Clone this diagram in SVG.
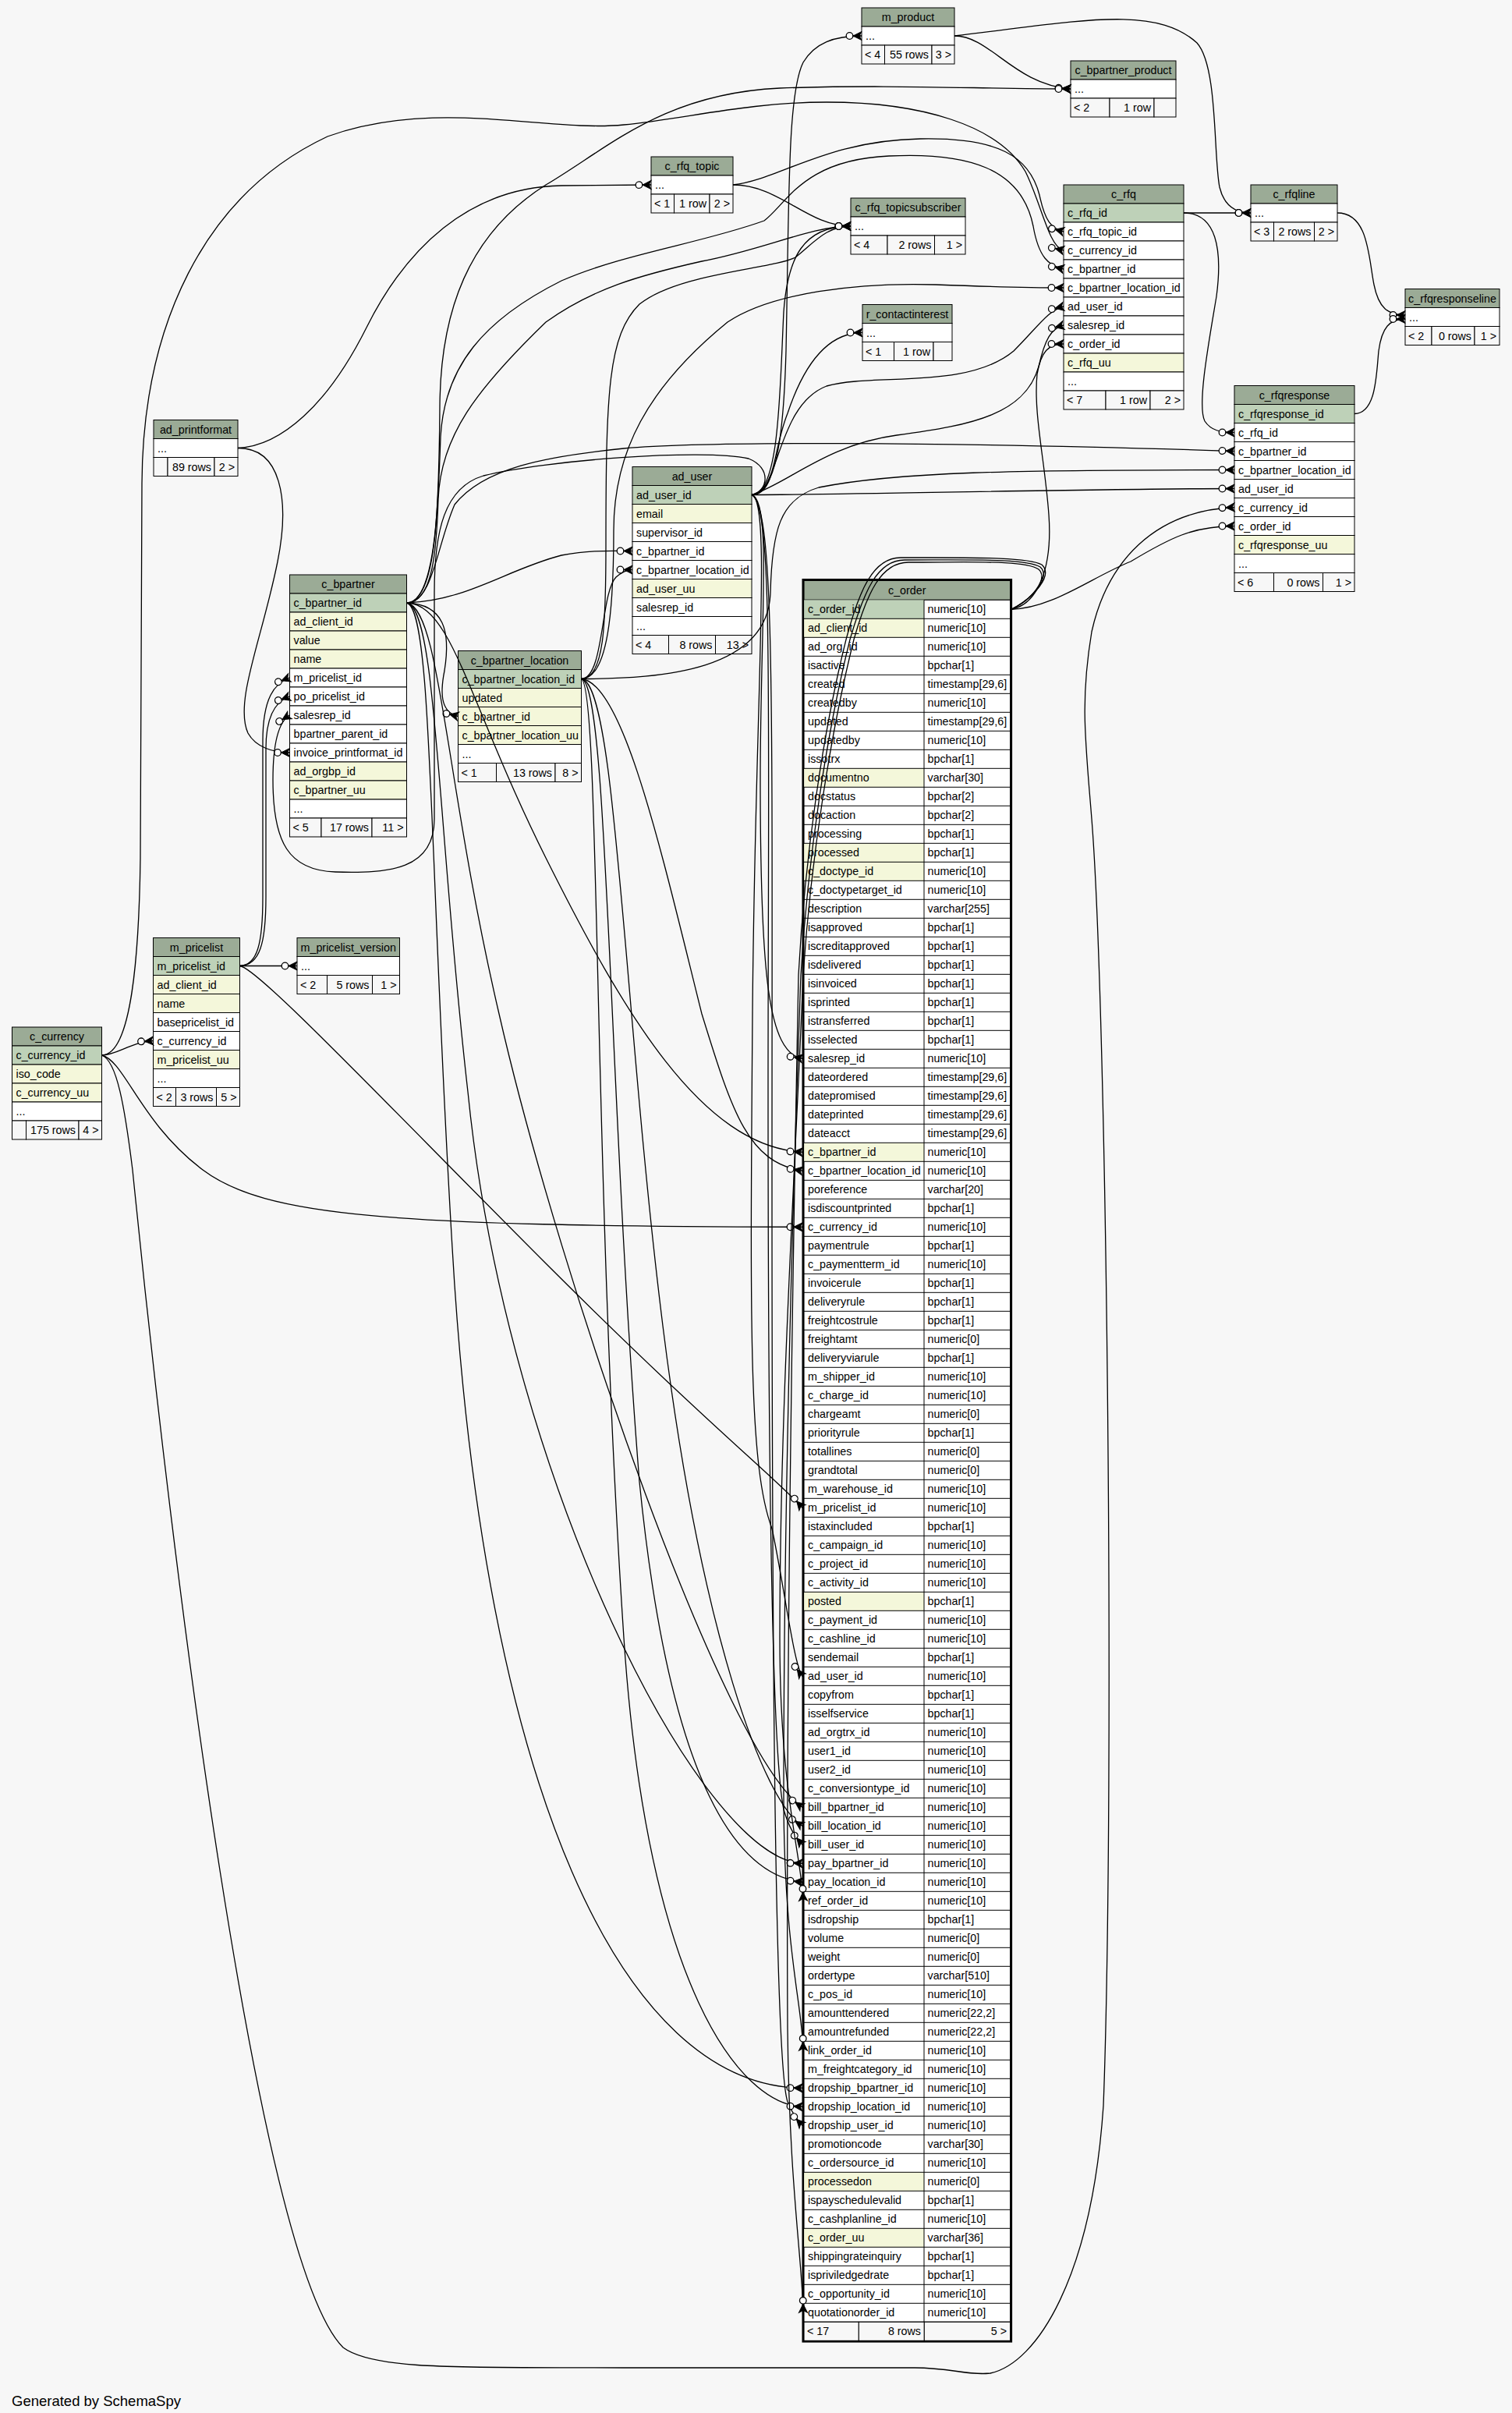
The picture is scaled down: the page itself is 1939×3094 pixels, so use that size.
<svg xmlns="http://www.w3.org/2000/svg" width="1939" height="3094" viewBox="0 0 1939 3094">
<defs>
<style>
.t{font-family:"Liberation Sans",Arial,Helvetica,sans-serif;font-size:14.3px;fill:#000}
.m{text-anchor:middle}
.e{text-anchor:end}
.hd{fill:#9bab96;stroke:#000;stroke-width:1}
.pk{fill:#bed1b8;stroke:#000;stroke-width:1}
.ix{fill:#f4f7da;stroke:#000;stroke-width:1}
.w{fill:#fff;stroke:#000;stroke-width:1}
.ft{fill:#f7f7f7;stroke:#000;stroke-width:1}
.ln{fill:none;stroke:#000;stroke-width:1}
.ed{fill:none;stroke:#000;stroke-width:1.3;marker-end:url(#fk)}
</style>
<marker id="fk" markerUnits="userSpaceOnUse" markerWidth="24" markerHeight="16" viewBox="-22 -8 24 16" refX="0" refY="0" orient="auto" overflow="visible">
<path d="M-11,0 L0,-5.5 L-3,0 L0,5.5 Z M-11,0 H0" fill="#000" stroke="#000" stroke-width="1"/>
<circle cx="-15.5" cy="0" r="4.3" fill="#fff" stroke="#000" stroke-width="1.3"/>
</marker>
</defs>
<rect x="0" y="0" width="1939" height="3094" fill="#f7f7f7"/>

<g id="m_product">
<rect class="hd" x="1105" y="10" width="119" height="24"/>
<text class="t m" x="1164.5" y="27">m_product</text>
<rect class="w" x="1105" y="34" width="119" height="24"/>
<text class="t" x="1110" y="51">...</text>
<rect class="ft" x="1105" y="58" width="29.5" height="24"/>
<rect class="ft" x="1134.5" y="58" width="60.5" height="24"/>
<rect class="ft" x="1195" y="58" width="29" height="24"/>
<text class="t" x="1109" y="75">&lt; 4</text>
<text class="t e" x="1191" y="75">55 rows</text>
<text class="t e" x="1220" y="75">3 &gt;</text>
</g>

<g id="c_bpartner_product">
<rect class="hd" x="1373" y="78" width="135" height="24"/>
<text class="t m" x="1440.5" y="95">c_bpartner_product</text>
<rect class="w" x="1373" y="102" width="135" height="24"/>
<text class="t" x="1378" y="119">...</text>
<rect class="ft" x="1373" y="126" width="50" height="24"/>
<rect class="ft" x="1423" y="126" width="57" height="24"/>
<rect class="ft" x="1480" y="126" width="28" height="24"/>
<text class="t" x="1377" y="143">&lt; 2</text>
<text class="t e" x="1476" y="143">1 row</text>
</g>

<g id="c_rfq_topic">
<rect class="hd" x="835" y="201" width="105" height="24"/>
<text class="t m" x="887.5" y="218">c_rfq_topic</text>
<rect class="w" x="835" y="225" width="105" height="24"/>
<text class="t" x="840" y="242">...</text>
<rect class="ft" x="835" y="249" width="29.5" height="24"/>
<rect class="ft" x="864.5" y="249" width="45.5" height="24"/>
<rect class="ft" x="910" y="249" width="30" height="24"/>
<text class="t" x="839" y="266">&lt; 1</text>
<text class="t e" x="906" y="266">1 row</text>
<text class="t e" x="936" y="266">2 &gt;</text>
</g>

<g id="c_rfq_topicsubscriber">
<rect class="hd" x="1091" y="254" width="147" height="24"/>
<text class="t m" x="1164.5" y="271">c_rfq_topicsubscriber</text>
<rect class="w" x="1091" y="278" width="147" height="24"/>
<text class="t" x="1096" y="295">...</text>
<rect class="ft" x="1091" y="302" width="47" height="24"/>
<rect class="ft" x="1138" y="302" width="60.5" height="24"/>
<rect class="ft" x="1198.5" y="302" width="39.5" height="24"/>
<text class="t" x="1095" y="319">&lt; 4</text>
<text class="t e" x="1194.5" y="319">2 rows</text>
<text class="t e" x="1234" y="319">1 &gt;</text>
</g>

<g id="r_contactinterest">
<rect class="hd" x="1106" y="390.5" width="115" height="24"/>
<text class="t m" x="1163.5" y="407.5">r_contactinterest</text>
<rect class="w" x="1106" y="414.5" width="115" height="24"/>
<text class="t" x="1111" y="431.5">...</text>
<rect class="ft" x="1106" y="438.5" width="40.5" height="24"/>
<rect class="ft" x="1146.5" y="438.5" width="50.5" height="24"/>
<rect class="ft" x="1197" y="438.5" width="24" height="24"/>
<text class="t" x="1110" y="455.5">&lt; 1</text>
<text class="t e" x="1193" y="455.5">1 row</text>
</g>

<g id="c_rfq">
<rect class="hd" x="1364" y="237" width="154" height="24"/>
<text class="t m" x="1441" y="254">c_rfq</text>
<rect class="pk" x="1364" y="261" width="154" height="24"/>
<rect class="w" x="1364" y="285" width="154" height="24"/>
<rect class="w" x="1364" y="309" width="154" height="24"/>
<rect class="w" x="1364" y="333" width="154" height="24"/>
<rect class="w" x="1364" y="357" width="154" height="24"/>
<rect class="w" x="1364" y="381" width="154" height="24"/>
<rect class="w" x="1364" y="405" width="154" height="24"/>
<rect class="w" x="1364" y="429" width="154" height="24"/>
<rect class="ix" x="1364" y="453" width="154" height="24"/>
<rect class="w" x="1364" y="477" width="154" height="24"/>
<text class="t" x="1369" y="278">c_rfq_id</text>
<text class="t" x="1369" y="302">c_rfq_topic_id</text>
<text class="t" x="1369" y="326">c_currency_id</text>
<text class="t" x="1369" y="350">c_bpartner_id</text>
<text class="t" x="1369" y="374">c_bpartner_location_id</text>
<text class="t" x="1369" y="398">ad_user_id</text>
<text class="t" x="1369" y="422">salesrep_id</text>
<text class="t" x="1369" y="446">c_order_id</text>
<text class="t" x="1369" y="470">c_rfq_uu</text>
<text class="t" x="1369" y="494">...</text>
<rect class="ft" x="1364" y="501" width="54" height="24"/>
<rect class="ft" x="1418" y="501" width="57" height="24"/>
<rect class="ft" x="1475" y="501" width="43" height="24"/>
<text class="t" x="1368" y="518">&lt; 7</text>
<text class="t e" x="1471" y="518">1 row</text>
<text class="t e" x="1514" y="518">2 &gt;</text>
</g>

<g id="c_rfqline">
<rect class="hd" x="1604" y="237" width="111" height="24"/>
<text class="t m" x="1659.5" y="254">c_rfqline</text>
<rect class="w" x="1604" y="261" width="111" height="24"/>
<text class="t" x="1609" y="278">...</text>
<rect class="ft" x="1604" y="285" width="29.5" height="24"/>
<rect class="ft" x="1633.5" y="285" width="52" height="24"/>
<rect class="ft" x="1685.5" y="285" width="29.5" height="24"/>
<text class="t" x="1608" y="302">&lt; 3</text>
<text class="t e" x="1681.5" y="302">2 rows</text>
<text class="t e" x="1711" y="302">2 &gt;</text>
</g>

<g id="c_rfqresponseline">
<rect class="hd" x="1802" y="370.5" width="121" height="24"/>
<text class="t m" x="1862.5" y="387.5">c_rfqresponseline</text>
<rect class="w" x="1802" y="394.5" width="121" height="24"/>
<text class="t" x="1807" y="411.5">...</text>
<rect class="ft" x="1802" y="418.5" width="34" height="24"/>
<rect class="ft" x="1836" y="418.5" width="55" height="24"/>
<rect class="ft" x="1891" y="418.5" width="32" height="24"/>
<text class="t" x="1806" y="435.5">&lt; 2</text>
<text class="t e" x="1887" y="435.5">0 rows</text>
<text class="t e" x="1919" y="435.5">1 &gt;</text>
</g>

<g id="c_rfqresponse">
<rect class="hd" x="1583" y="494.5" width="154" height="24"/>
<text class="t m" x="1660" y="511.5">c_rfqresponse</text>
<rect class="pk" x="1583" y="518.5" width="154" height="24"/>
<rect class="w" x="1583" y="542.5" width="154" height="24"/>
<rect class="w" x="1583" y="566.5" width="154" height="24"/>
<rect class="w" x="1583" y="590.5" width="154" height="24"/>
<rect class="w" x="1583" y="614.5" width="154" height="24"/>
<rect class="w" x="1583" y="638.5" width="154" height="24"/>
<rect class="w" x="1583" y="662.5" width="154" height="24"/>
<rect class="ix" x="1583" y="686.5" width="154" height="24"/>
<rect class="w" x="1583" y="710.5" width="154" height="24"/>
<text class="t" x="1588" y="535.5">c_rfqresponse_id</text>
<text class="t" x="1588" y="559.5">c_rfq_id</text>
<text class="t" x="1588" y="583.5">c_bpartner_id</text>
<text class="t" x="1588" y="607.5">c_bpartner_location_id</text>
<text class="t" x="1588" y="631.5">ad_user_id</text>
<text class="t" x="1588" y="655.5">c_currency_id</text>
<text class="t" x="1588" y="679.5">c_order_id</text>
<text class="t" x="1588" y="703.5">c_rfqresponse_uu</text>
<text class="t" x="1588" y="727.5">...</text>
<rect class="ft" x="1583" y="734.5" width="50.5" height="24"/>
<rect class="ft" x="1633.5" y="734.5" width="63" height="24"/>
<rect class="ft" x="1696.5" y="734.5" width="40.5" height="24"/>
<text class="t" x="1587" y="751.5">&lt; 6</text>
<text class="t e" x="1692.5" y="751.5">0 rows</text>
<text class="t e" x="1733" y="751.5">1 &gt;</text>
</g>

<g id="ad_printformat">
<rect class="hd" x="197" y="538.5" width="108" height="24"/>
<text class="t m" x="251" y="555.5">ad_printformat</text>
<rect class="w" x="197" y="562.5" width="108" height="24"/>
<text class="t" x="202" y="579.5">...</text>
<rect class="ft" x="197" y="586.5" width="18" height="24"/>
<rect class="ft" x="215" y="586.5" width="60" height="24"/>
<rect class="ft" x="275" y="586.5" width="30" height="24"/>
<text class="t e" x="271" y="603.5">89 rows</text>
<text class="t e" x="301" y="603.5">2 &gt;</text>
</g>

<g id="ad_user">
<rect class="hd" x="811" y="598.5" width="153" height="24"/>
<text class="t m" x="887.5" y="615.5">ad_user</text>
<rect class="pk" x="811" y="622.5" width="153" height="24"/>
<rect class="ix" x="811" y="646.5" width="153" height="24"/>
<rect class="w" x="811" y="670.5" width="153" height="24"/>
<rect class="w" x="811" y="694.5" width="153" height="24"/>
<rect class="w" x="811" y="718.5" width="153" height="24"/>
<rect class="ix" x="811" y="742.5" width="153" height="24"/>
<rect class="w" x="811" y="766.5" width="153" height="24"/>
<rect class="w" x="811" y="790.5" width="153" height="24"/>
<text class="t" x="816" y="639.5">ad_user_id</text>
<text class="t" x="816" y="663.5">email</text>
<text class="t" x="816" y="687.5">supervisor_id</text>
<text class="t" x="816" y="711.5">c_bpartner_id</text>
<text class="t" x="816" y="735.5">c_bpartner_location_id</text>
<text class="t" x="816" y="759.5">ad_user_uu</text>
<text class="t" x="816" y="783.5">salesrep_id</text>
<text class="t" x="816" y="807.5">...</text>
<rect class="ft" x="811" y="814.5" width="46.5" height="24"/>
<rect class="ft" x="857.5" y="814.5" width="60" height="24"/>
<rect class="ft" x="917.5" y="814.5" width="46.5" height="24"/>
<text class="t" x="815" y="831.5">&lt; 4</text>
<text class="t e" x="913.5" y="831.5">8 rows</text>
<text class="t e" x="960" y="831.5">13 &gt;</text>
</g>

<g id="c_bpartner">
<rect class="hd" x="371.5" y="737" width="150" height="24"/>
<text class="t m" x="446.5" y="754">c_bpartner</text>
<rect class="pk" x="371.5" y="761" width="150" height="24"/>
<rect class="ix" x="371.5" y="785" width="150" height="24"/>
<rect class="ix" x="371.5" y="809" width="150" height="24"/>
<rect class="ix" x="371.5" y="833" width="150" height="24"/>
<rect class="w" x="371.5" y="857" width="150" height="24"/>
<rect class="w" x="371.5" y="881" width="150" height="24"/>
<rect class="w" x="371.5" y="905" width="150" height="24"/>
<rect class="w" x="371.5" y="929" width="150" height="24"/>
<rect class="w" x="371.5" y="953" width="150" height="24"/>
<rect class="ix" x="371.5" y="977" width="150" height="24"/>
<rect class="ix" x="371.5" y="1001" width="150" height="24"/>
<rect class="w" x="371.5" y="1025" width="150" height="24"/>
<text class="t" x="376.5" y="778">c_bpartner_id</text>
<text class="t" x="376.5" y="802">ad_client_id</text>
<text class="t" x="376.5" y="826">value</text>
<text class="t" x="376.5" y="850">name</text>
<text class="t" x="376.5" y="874">m_pricelist_id</text>
<text class="t" x="376.5" y="898">po_pricelist_id</text>
<text class="t" x="376.5" y="922">salesrep_id</text>
<text class="t" x="376.5" y="946">bpartner_parent_id</text>
<text class="t" x="376.5" y="970">invoice_printformat_id</text>
<text class="t" x="376.5" y="994">ad_orgbp_id</text>
<text class="t" x="376.5" y="1018">c_bpartner_uu</text>
<text class="t" x="376.5" y="1042">...</text>
<rect class="ft" x="371.5" y="1049" width="40.5" height="24"/>
<rect class="ft" x="412" y="1049" width="65" height="24"/>
<rect class="ft" x="477" y="1049" width="44.5" height="24"/>
<text class="t" x="375.5" y="1066">&lt; 5</text>
<text class="t e" x="473" y="1066">17 rows</text>
<text class="t e" x="517.5" y="1066">11 &gt;</text>
</g>

<g id="c_bpartner_location">
<rect class="hd" x="587.5" y="834.5" width="158" height="24"/>
<text class="t m" x="666.5" y="851.5">c_bpartner_location</text>
<rect class="pk" x="587.5" y="858.5" width="158" height="24"/>
<rect class="ix" x="587.5" y="882.5" width="158" height="24"/>
<rect class="ix" x="587.5" y="906.5" width="158" height="24"/>
<rect class="ix" x="587.5" y="930.5" width="158" height="24"/>
<rect class="w" x="587.5" y="954.5" width="158" height="24"/>
<text class="t" x="592.5" y="875.5">c_bpartner_location_id</text>
<text class="t" x="592.5" y="899.5">updated</text>
<text class="t" x="592.5" y="923.5">c_bpartner_id</text>
<text class="t" x="592.5" y="947.5">c_bpartner_location_uu</text>
<text class="t" x="592.5" y="971.5">...</text>
<rect class="ft" x="587.5" y="978.5" width="49" height="24"/>
<rect class="ft" x="636.5" y="978.5" width="75.5" height="24"/>
<rect class="ft" x="712" y="978.5" width="33.5" height="24"/>
<text class="t" x="591.5" y="995.5">&lt; 1</text>
<text class="t e" x="708" y="995.5">13 rows</text>
<text class="t e" x="741.5" y="995.5">8 &gt;</text>
</g>

<g id="m_pricelist">
<rect class="hd" x="196.5" y="1202.5" width="111" height="24"/>
<text class="t m" x="252" y="1219.5">m_pricelist</text>
<rect class="pk" x="196.5" y="1226.5" width="111" height="24"/>
<rect class="ix" x="196.5" y="1250.5" width="111" height="24"/>
<rect class="ix" x="196.5" y="1274.5" width="111" height="24"/>
<rect class="w" x="196.5" y="1298.5" width="111" height="24"/>
<rect class="w" x="196.5" y="1322.5" width="111" height="24"/>
<rect class="ix" x="196.5" y="1346.5" width="111" height="24"/>
<rect class="w" x="196.5" y="1370.5" width="111" height="24"/>
<text class="t" x="201.5" y="1243.5">m_pricelist_id</text>
<text class="t" x="201.5" y="1267.5">ad_client_id</text>
<text class="t" x="201.5" y="1291.5">name</text>
<text class="t" x="201.5" y="1315.5">basepricelist_id</text>
<text class="t" x="201.5" y="1339.5">c_currency_id</text>
<text class="t" x="201.5" y="1363.5">m_pricelist_uu</text>
<text class="t" x="201.5" y="1387.5">...</text>
<rect class="ft" x="196.5" y="1394.5" width="29" height="24"/>
<rect class="ft" x="225.5" y="1394.5" width="52" height="24"/>
<rect class="ft" x="277.5" y="1394.5" width="30" height="24"/>
<text class="t" x="200.5" y="1411.5">&lt; 2</text>
<text class="t e" x="273.5" y="1411.5">3 rows</text>
<text class="t e" x="303.5" y="1411.5">5 &gt;</text>
</g>

<g id="m_pricelist_version">
<rect class="hd" x="381" y="1202.5" width="131.5" height="24"/>
<text class="t m" x="446.75" y="1219.5">m_pricelist_version</text>
<rect class="w" x="381" y="1226.5" width="131.5" height="24"/>
<text class="t" x="386" y="1243.5">...</text>
<rect class="ft" x="381" y="1250.5" width="38.5" height="24"/>
<rect class="ft" x="419.5" y="1250.5" width="58" height="24"/>
<rect class="ft" x="477.5" y="1250.5" width="35" height="24"/>
<text class="t" x="385" y="1267.5">&lt; 2</text>
<text class="t e" x="473.5" y="1267.5">5 rows</text>
<text class="t e" x="508.5" y="1267.5">1 &gt;</text>
</g>

<g id="c_currency">
<rect class="hd" x="15.5" y="1317" width="115" height="24"/>
<text class="t m" x="73" y="1334">c_currency</text>
<rect class="pk" x="15.5" y="1341" width="115" height="24"/>
<rect class="ix" x="15.5" y="1365" width="115" height="24"/>
<rect class="ix" x="15.5" y="1389" width="115" height="24"/>
<rect class="w" x="15.5" y="1413" width="115" height="24"/>
<text class="t" x="20.5" y="1358">c_currency_id</text>
<text class="t" x="20.5" y="1382">iso_code</text>
<text class="t" x="20.5" y="1406">c_currency_uu</text>
<text class="t" x="20.5" y="1430">...</text>
<rect class="ft" x="15.5" y="1437" width="18" height="24"/>
<rect class="ft" x="33.5" y="1437" width="67.5" height="24"/>
<rect class="ft" x="101" y="1437" width="29.5" height="24"/>
<text class="t e" x="97" y="1454">175 rows</text>
<text class="t e" x="126.5" y="1454">4 &gt;</text>
</g>

<g id="c_order">
<rect class="hd" x="1031" y="744.5" width="264.5" height="24.8"/>
<text class="t m" x="1163.25" y="761.5">c_order</text>
<rect class="w" x="1031" y="769.3" width="264.5" height="2208"/>
<rect fill="#bed1b8" x="1031" y="769.3" width="154" height="24"/>
<rect fill="#f4f7da" x="1031" y="793.3" width="154" height="24"/>
<rect fill="#f4f7da" x="1031" y="985.3" width="154" height="24"/>
<rect fill="#f4f7da" x="1031" y="1081.3" width="154" height="24"/>
<rect fill="#f4f7da" x="1031" y="1105.3" width="154" height="24"/>
<rect fill="#f4f7da" x="1031" y="1465.3" width="154" height="24"/>
<rect fill="#f4f7da" x="1031" y="2041.3" width="154" height="24"/>
<rect fill="#f4f7da" x="1031" y="2785.3" width="154" height="24"/>
<rect fill="#f4f7da" x="1031" y="2857.3" width="154" height="24"/>
<path class="ln" d="M1185 769.3V2977.3
M1031 793.3H1295.5M1031 817.3H1295.5M1031 841.3H1295.5M1031 865.3H1295.5M1031 889.3H1295.5M1031 913.3H1295.5M1031 937.3H1295.5M1031 961.3H1295.5M1031 985.3H1295.5M1031 1009.3H1295.5
M1031 1033.3H1295.5M1031 1057.3H1295.5M1031 1081.3H1295.5M1031 1105.3H1295.5M1031 1129.3H1295.5M1031 1153.3H1295.5M1031 1177.3H1295.5M1031 1201.3H1295.5M1031 1225.3H1295.5M1031 1249.3H1295.5
M1031 1273.3H1295.5M1031 1297.3H1295.5M1031 1321.3H1295.5M1031 1345.3H1295.5M1031 1369.3H1295.5M1031 1393.3H1295.5M1031 1417.3H1295.5M1031 1441.3H1295.5M1031 1465.3H1295.5M1031 1489.3H1295.5
M1031 1513.3H1295.5M1031 1537.3H1295.5M1031 1561.3H1295.5M1031 1585.3H1295.5M1031 1609.3H1295.5M1031 1633.3H1295.5M1031 1657.3H1295.5M1031 1681.3H1295.5M1031 1705.3H1295.5M1031 1729.3H1295.5
M1031 1753.3H1295.5M1031 1777.3H1295.5M1031 1801.3H1295.5M1031 1825.3H1295.5M1031 1849.3H1295.5M1031 1873.3H1295.5M1031 1897.3H1295.5M1031 1921.3H1295.5M1031 1945.3H1295.5M1031 1969.3H1295.5
M1031 1993.3H1295.5M1031 2017.3H1295.5M1031 2041.3H1295.5M1031 2065.3H1295.5M1031 2089.3H1295.5M1031 2113.3H1295.5M1031 2137.3H1295.5M1031 2161.3H1295.5M1031 2185.3H1295.5M1031 2209.3H1295.5
M1031 2233.3H1295.5M1031 2257.3H1295.5M1031 2281.3H1295.5M1031 2305.3H1295.5M1031 2329.3H1295.5M1031 2353.3H1295.5M1031 2377.3H1295.5M1031 2401.3H1295.5M1031 2425.3H1295.5M1031 2449.3H1295.5
M1031 2473.3H1295.5M1031 2497.3H1295.5M1031 2521.3H1295.5M1031 2545.3H1295.5M1031 2569.3H1295.5M1031 2593.3H1295.5M1031 2617.3H1295.5M1031 2641.3H1295.5M1031 2665.3H1295.5M1031 2689.3H1295.5
M1031 2713.3H1295.5M1031 2737.3H1295.5M1031 2761.3H1295.5M1031 2785.3H1295.5M1031 2809.3H1295.5M1031 2833.3H1295.5M1031 2857.3H1295.5M1031 2881.3H1295.5M1031 2905.3H1295.5M1031 2929.3H1295.5
M1031 2953.3H1295.5M1031 2977.3H1295.5"/>
<text class="t" x="1036" y="786.3"><tspan x="1036">c_order_id</tspan><tspan x="1036" dy="24">ad_client_id</tspan><tspan x="1036" dy="24">ad_org_id</tspan><tspan x="1036" dy="24">isactive</tspan><tspan x="1036" dy="24">created</tspan><tspan x="1036" dy="24">createdby</tspan><tspan x="1036" dy="24">updated</tspan><tspan x="1036" dy="24">updatedby</tspan><tspan x="1036" dy="24">issotrx</tspan><tspan x="1036" dy="24">documentno</tspan><tspan x="1036" dy="24">docstatus</tspan><tspan x="1036" dy="24">docaction</tspan><tspan x="1036" dy="24">processing</tspan><tspan x="1036" dy="24">processed</tspan><tspan x="1036" dy="24">c_doctype_id</tspan><tspan x="1036" dy="24">c_doctypetarget_id</tspan><tspan x="1036" dy="24">description</tspan><tspan x="1036" dy="24">isapproved</tspan><tspan x="1036" dy="24">iscreditapproved</tspan><tspan x="1036" dy="24">isdelivered</tspan><tspan x="1036" dy="24">isinvoiced</tspan><tspan x="1036" dy="24">isprinted</tspan><tspan x="1036" dy="24">istransferred</tspan><tspan x="1036" dy="24">isselected</tspan><tspan x="1036" dy="24">salesrep_id</tspan><tspan x="1036" dy="24">dateordered</tspan><tspan x="1036" dy="24">datepromised</tspan><tspan x="1036" dy="24">dateprinted</tspan><tspan x="1036" dy="24">dateacct</tspan><tspan x="1036" dy="24">c_bpartner_id</tspan><tspan x="1036" dy="24">c_bpartner_location_id</tspan><tspan x="1036" dy="24">poreference</tspan><tspan x="1036" dy="24">isdiscountprinted</tspan><tspan x="1036" dy="24">c_currency_id</tspan><tspan x="1036" dy="24">paymentrule</tspan><tspan x="1036" dy="24">c_paymentterm_id</tspan><tspan x="1036" dy="24">invoicerule</tspan><tspan x="1036" dy="24">deliveryrule</tspan><tspan x="1036" dy="24">freightcostrule</tspan><tspan x="1036" dy="24">freightamt</tspan><tspan x="1036" dy="24">deliveryviarule</tspan><tspan x="1036" dy="24">m_shipper_id</tspan><tspan x="1036" dy="24">c_charge_id</tspan><tspan x="1036" dy="24">chargeamt</tspan><tspan x="1036" dy="24">priorityrule</tspan><tspan x="1036" dy="24">totallines</tspan><tspan x="1036" dy="24">grandtotal</tspan><tspan x="1036" dy="24">m_warehouse_id</tspan><tspan x="1036" dy="24">m_pricelist_id</tspan><tspan x="1036" dy="24">istaxincluded</tspan><tspan x="1036" dy="24">c_campaign_id</tspan><tspan x="1036" dy="24">c_project_id</tspan><tspan x="1036" dy="24">c_activity_id</tspan><tspan x="1036" dy="24">posted</tspan><tspan x="1036" dy="24">c_payment_id</tspan><tspan x="1036" dy="24">c_cashline_id</tspan><tspan x="1036" dy="24">sendemail</tspan><tspan x="1036" dy="24">ad_user_id</tspan><tspan x="1036" dy="24">copyfrom</tspan><tspan x="1036" dy="24">isselfservice</tspan><tspan x="1036" dy="24">ad_orgtrx_id</tspan><tspan x="1036" dy="24">user1_id</tspan><tspan x="1036" dy="24">user2_id</tspan><tspan x="1036" dy="24">c_conversiontype_id</tspan><tspan x="1036" dy="24">bill_bpartner_id</tspan><tspan x="1036" dy="24">bill_location_id</tspan><tspan x="1036" dy="24">bill_user_id</tspan><tspan x="1036" dy="24">pay_bpartner_id</tspan><tspan x="1036" dy="24">pay_location_id</tspan><tspan x="1036" dy="24">ref_order_id</tspan><tspan x="1036" dy="24">isdropship</tspan><tspan x="1036" dy="24">volume</tspan><tspan x="1036" dy="24">weight</tspan><tspan x="1036" dy="24">ordertype</tspan><tspan x="1036" dy="24">c_pos_id</tspan><tspan x="1036" dy="24">amounttendered</tspan><tspan x="1036" dy="24">amountrefunded</tspan><tspan x="1036" dy="24">link_order_id</tspan><tspan x="1036" dy="24">m_freightcategory_id</tspan><tspan x="1036" dy="24">dropship_bpartner_id</tspan><tspan x="1036" dy="24">dropship_location_id</tspan><tspan x="1036" dy="24">dropship_user_id</tspan><tspan x="1036" dy="24">promotioncode</tspan><tspan x="1036" dy="24">c_ordersource_id</tspan><tspan x="1036" dy="24">processedon</tspan><tspan x="1036" dy="24">ispayschedulevalid</tspan><tspan x="1036" dy="24">c_cashplanline_id</tspan><tspan x="1036" dy="24">c_order_uu</tspan><tspan x="1036" dy="24">shippingrateinquiry</tspan><tspan x="1036" dy="24">ispriviledgedrate</tspan><tspan x="1036" dy="24">c_opportunity_id</tspan><tspan x="1036" dy="24">quotationorder_id</tspan></text>
<text class="t" x="1189.5" y="786.3"><tspan x="1189.5">numeric[10]</tspan><tspan x="1189.5" dy="24">numeric[10]</tspan><tspan x="1189.5" dy="24">numeric[10]</tspan><tspan x="1189.5" dy="24">bpchar[1]</tspan><tspan x="1189.5" dy="24">timestamp[29,6]</tspan><tspan x="1189.5" dy="24">numeric[10]</tspan><tspan x="1189.5" dy="24">timestamp[29,6]</tspan><tspan x="1189.5" dy="24">numeric[10]</tspan><tspan x="1189.5" dy="24">bpchar[1]</tspan><tspan x="1189.5" dy="24">varchar[30]</tspan><tspan x="1189.5" dy="24">bpchar[2]</tspan><tspan x="1189.5" dy="24">bpchar[2]</tspan><tspan x="1189.5" dy="24">bpchar[1]</tspan><tspan x="1189.5" dy="24">bpchar[1]</tspan><tspan x="1189.5" dy="24">numeric[10]</tspan><tspan x="1189.5" dy="24">numeric[10]</tspan><tspan x="1189.5" dy="24">varchar[255]</tspan><tspan x="1189.5" dy="24">bpchar[1]</tspan><tspan x="1189.5" dy="24">bpchar[1]</tspan><tspan x="1189.5" dy="24">bpchar[1]</tspan><tspan x="1189.5" dy="24">bpchar[1]</tspan><tspan x="1189.5" dy="24">bpchar[1]</tspan><tspan x="1189.5" dy="24">bpchar[1]</tspan><tspan x="1189.5" dy="24">bpchar[1]</tspan><tspan x="1189.5" dy="24">numeric[10]</tspan><tspan x="1189.5" dy="24">timestamp[29,6]</tspan><tspan x="1189.5" dy="24">timestamp[29,6]</tspan><tspan x="1189.5" dy="24">timestamp[29,6]</tspan><tspan x="1189.5" dy="24">timestamp[29,6]</tspan><tspan x="1189.5" dy="24">numeric[10]</tspan><tspan x="1189.5" dy="24">numeric[10]</tspan><tspan x="1189.5" dy="24">varchar[20]</tspan><tspan x="1189.5" dy="24">bpchar[1]</tspan><tspan x="1189.5" dy="24">numeric[10]</tspan><tspan x="1189.5" dy="24">bpchar[1]</tspan><tspan x="1189.5" dy="24">numeric[10]</tspan><tspan x="1189.5" dy="24">bpchar[1]</tspan><tspan x="1189.5" dy="24">bpchar[1]</tspan><tspan x="1189.5" dy="24">bpchar[1]</tspan><tspan x="1189.5" dy="24">numeric[0]</tspan><tspan x="1189.5" dy="24">bpchar[1]</tspan><tspan x="1189.5" dy="24">numeric[10]</tspan><tspan x="1189.5" dy="24">numeric[10]</tspan><tspan x="1189.5" dy="24">numeric[0]</tspan><tspan x="1189.5" dy="24">bpchar[1]</tspan><tspan x="1189.5" dy="24">numeric[0]</tspan><tspan x="1189.5" dy="24">numeric[0]</tspan><tspan x="1189.5" dy="24">numeric[10]</tspan><tspan x="1189.5" dy="24">numeric[10]</tspan><tspan x="1189.5" dy="24">bpchar[1]</tspan><tspan x="1189.5" dy="24">numeric[10]</tspan><tspan x="1189.5" dy="24">numeric[10]</tspan><tspan x="1189.5" dy="24">numeric[10]</tspan><tspan x="1189.5" dy="24">bpchar[1]</tspan><tspan x="1189.5" dy="24">numeric[10]</tspan><tspan x="1189.5" dy="24">numeric[10]</tspan><tspan x="1189.5" dy="24">bpchar[1]</tspan><tspan x="1189.5" dy="24">numeric[10]</tspan><tspan x="1189.5" dy="24">bpchar[1]</tspan><tspan x="1189.5" dy="24">bpchar[1]</tspan><tspan x="1189.5" dy="24">numeric[10]</tspan><tspan x="1189.5" dy="24">numeric[10]</tspan><tspan x="1189.5" dy="24">numeric[10]</tspan><tspan x="1189.5" dy="24">numeric[10]</tspan><tspan x="1189.5" dy="24">numeric[10]</tspan><tspan x="1189.5" dy="24">numeric[10]</tspan><tspan x="1189.5" dy="24">numeric[10]</tspan><tspan x="1189.5" dy="24">numeric[10]</tspan><tspan x="1189.5" dy="24">numeric[10]</tspan><tspan x="1189.5" dy="24">numeric[10]</tspan><tspan x="1189.5" dy="24">bpchar[1]</tspan><tspan x="1189.5" dy="24">numeric[0]</tspan><tspan x="1189.5" dy="24">numeric[0]</tspan><tspan x="1189.5" dy="24">varchar[510]</tspan><tspan x="1189.5" dy="24">numeric[10]</tspan><tspan x="1189.5" dy="24">numeric[22,2]</tspan><tspan x="1189.5" dy="24">numeric[22,2]</tspan><tspan x="1189.5" dy="24">numeric[10]</tspan><tspan x="1189.5" dy="24">numeric[10]</tspan><tspan x="1189.5" dy="24">numeric[10]</tspan><tspan x="1189.5" dy="24">numeric[10]</tspan><tspan x="1189.5" dy="24">numeric[10]</tspan><tspan x="1189.5" dy="24">varchar[30]</tspan><tspan x="1189.5" dy="24">numeric[10]</tspan><tspan x="1189.5" dy="24">numeric[0]</tspan><tspan x="1189.5" dy="24">bpchar[1]</tspan><tspan x="1189.5" dy="24">numeric[10]</tspan><tspan x="1189.5" dy="24">varchar[36]</tspan><tspan x="1189.5" dy="24">bpchar[1]</tspan><tspan x="1189.5" dy="24">bpchar[1]</tspan><tspan x="1189.5" dy="24">numeric[10]</tspan><tspan x="1189.5" dy="24">numeric[10]</tspan></text>
<rect class="ft" x="1031" y="2977.3" width="70.3" height="24"/>
<rect class="ft" x="1101.3" y="2977.3" width="84" height="24"/>
<rect class="ft" x="1185.3" y="2977.3" width="110.2" height="24"/>
<text class="t" x="1035" y="2994.3">&lt; 17</text>
<text class="t e" x="1181" y="2994.3">8 rows</text>
<text class="t e" x="1291" y="2994.3">5 &gt;</text>
<rect x="1029.8" y="743.3" width="267" height="2259" fill="none" stroke="#000" stroke-width="2.6"/>
</g>

<g id="connectors">
<path class="ed" d="M1224,46 C1270,46 1300,108 1373,114"/>
<path class="ed" d="M1224,46 C1380,28 1480,5 1535,55 C1562,85 1556,200 1564,240 C1570,265 1585,273 1604,273"/>
<path class="ed" d="M940,237 C1000,237 1035,290 1091,290"/>
<path class="ed" d="M940,237 C1000,230 1060,180 1180,178 C1280,176 1320,200 1333,250 C1340,283 1348,293 1364,297"/>
<path class="ed" d="M1518,273 L1604,273"/>
<path class="ed" d="M1518,273 C1560,273 1568,320 1560,380 C1550,440 1535,520 1545,540 C1553,552 1565,554.5 1583,554.5"/>
<path class="ed" d="M1715,273 C1755,273 1755,330 1762,365 C1768,395 1780,404 1802,404"/>
<path class="ed" d="M1737,530.5 C1765,530 1765,480 1768,450 C1772,420 1782,409 1802,409"/>
<path class="ed" d="M305,574.5 C360,574 372,640 356,720 C336,820 300,900 318,940 C328,958 350,965 371.5,965"/>
<path class="ed" d="M305,574.5 C360,572 420,520 470,420 C520,320 600,240 720,238 L835,237"/>
<path class="ed" d="M964,634.5 C995,634 1005,560 1008,450 C1012,250 1010,120 1030,80 C1045,55 1070,46 1105,46"/>
<path class="ed" d="M964,634.5 C995,634 990,580 1010,530 C1030,470 1060,426.5 1106,426.5"/>
<path class="ed" d="M964,634.5 C1000,634 1000,500 1005,400 C1010,330 1030,290 1091,290"/>
<path class="ed" d="M964,634.5 C1000,634 995,520 1060,495 C1120,478 1240,500 1300,450 C1330,420 1345,397 1364,393"/>
<path class="ed" d="M964,634.5 C1010,620 1060,570 1150,558 C1250,545 1315,530 1332,470 C1340,435 1348,421 1364,417"/>
<path class="ed" d="M964,634.5 C1100,634 1400,626.5 1583,626.5"/>
<path class="ed" d="M964,634.5 C985,630 990,600 960,588 C900,575 700,590 620,610 C570,625 557,680 557,760 L557,1050 C557,1115 500,1120 430,1118 C370,1116 350,1080 350,1000 C350,950 358,925 371.5,917"/>
<path class="ed" d="M964,634.5 C990,640 975,800 975,1000 C975,1250 985,1350 1029,1357.3"/>
<path class="ed" d="M964,634.5 C990,640 968,900 965,1300 C962,1700 960,1880 990,1960 C1005,2030 1018,2135 1029,2149.3"/>
<path class="ed" d="M964,634.5 C992,645 985,900 985,1400 C985,1900 990,2250 1005,2320 C1012,2345 1020,2355 1029,2365.3"/>
<path class="ed" d="M964,634.5 C994,650 990,900 990,1500 C990,2200 995,2650 1010,2695 C1016,2710 1022,2718 1029,2725.3"/>
<path class="ed" d="M521.5,773 C600,770 650,730 720,712 C760,705 780,706.5 811,706.5"/>
<path class="ed" d="M521.5,773 C570,775 578,810 570,860 C563,895 568,914 587.5,918.5"/>
<path class="ed" d="M521.5,773 C560,773 563,650 564,520 C565,400 600,300 700,237 C780,190 850,120 1000,113 C1150,108 1250,114 1373,114"/>
<path class="ed" d="M521.5,773 C558,773 562,650 565,560 C570,470 620,410 720,360 C800,325 900,312 980,283 C1010,260 1030,205 1140,200 C1240,195 1310,215 1325,290 C1332,330 1345,341 1364,345"/>
<path class="ed" d="M521.5,773 C556,773 560,700 562,640 C565,560 610,500 700,413 C760,370 820,353 900,335 C980,320 1040,290 1091,290"/>
<path class="ed" d="M521.5,773 C555,773 560,700 583,647 C620,600 700,585 800,575 C900,566 1200,566 1583,578.5"/>
<path class="ed" d="M521.5,773 C580,775 600,900 700,1100 C800,1300 900,1470 1029,1477.3"/>
<path class="ed" d="M521.5,773 C565,780 570,1000 640,1300 C720,1650 930,2250 1029,2317.3"/>
<path class="ed" d="M521.5,773 C560,780 560,1050 600,1400 C650,1900 900,2385 1029,2389.3"/>
<path class="ed" d="M521.5,773 C555,780 550,1100 580,1600 C620,2300 800,2675 1029,2677.3"/>
<path class="ed" d="M745.5,870.5 C775,870 770,760 790,740 C798,733 805,730.5 811,730.5"/>
<path class="ed" d="M745.5,870.5 C775,870 777,800 777,700 C777,500 780,430 820,390 C870,350 990,345 1020,330 C1045,310 1060,290 1091,290"/>
<path class="ed" d="M745.5,870.5 C780,870 787,780 787,680 C787,580 830,497 933,413 C990,375 1100,362 1200,365 C1280,368 1330,369 1364,369"/>
<path class="ed" d="M745.5,870.5 C850,870 985,860 988,760 C990,680 1000,640 1050,625 C1150,605 1300,602.5 1583,602.5"/>
<path class="ed" d="M745.5,870.5 C800,875 850,1100 900,1300 C940,1430 960,1490 1029,1501.3"/>
<path class="ed" d="M745.5,870.5 C790,875 800,1300 850,1700 C900,2100 980,2310 1029,2341.3"/>
<path class="ed" d="M745.5,870.5 C780,875 780,1400 820,1900 C860,2300 950,2405 1029,2413.3"/>
<path class="ed" d="M745.5,870.5 C770,880 760,1500 800,2100 C830,2550 950,2698 1029,2701.3"/>
<path class="ed" d="M307.5,1238.5 L381,1238.5"/>
<path class="ed" d="M307.5,1238.5 C330,1238 337,1210 337,1150 L337,950 C337,895 352,876 371.5,869"/>
<path class="ed" d="M307.5,1238.5 C333,1238 341,1210 341,1150 L341,960 C341,918 354,899 371.5,893"/>
<path class="ed" d="M307.5,1238.5 C330,1240 500,1420 700,1620 C900,1820 1000,1900 1029,1933.3"/>
<path class="ed" d="M130.5,1353 C150,1353 168,1336 196.5,1334.5"/>
<path class="ed" d="M130.5,1353 C160,1360 180,1440 260,1500 C340,1560 500,1572 1029,1573.3"/>
<path class="ed" d="M130.5,1353 C165,1353 178,1250 180,1100 L182,620 C183,420 260,250 420,175 C560,125 700,170 800,160 C880,152 960,131 1060,131 C1180,131 1280,160 1315,220 C1335,260 1345,317 1364,321"/>
<path class="ed" d="M130.5,1353 C150,1360 160,1420 170,1500 C220,2000 330,2900 440,3010 C480,3040 600,3035 800,3036 L1173,3036 C1220,3036 1240,3046 1270,3043 C1330,3030 1400,2920 1415,2700 C1430,2300 1420,1300 1400,1050 C1392,950 1385,900 1400,810 C1420,720 1480,655 1583,650.5"/>
<path class="ed" d="M1297,781.3 C1330,775 1350,730 1345,660 C1340,590 1325,530 1330,480 C1335,450 1345,441 1364,441"/>
<path class="ed" d="M1297,781.3 C1350,780 1400,740 1450,720 C1500,690 1530,674.5 1583,674.5"/>
<path class="ed" d="M1297,781.3 C1322,770 1345,742 1332,730 C1315,718 1250,721 1165,721 C1130,721 1112,760 1095,820 C1065,940 1040,1100 1030,1250 C1020,1500 1000,1800 1000,2100 C1000,2300 1028,2380 1030,2437.3"/>
<path class="ed" d="M1297,781.3 C1324,768 1348,740 1334,727 C1316,716 1250,718 1160,718 C1125,718 1108,758 1090,820 C1060,940 1036,1100 1027,1250 C1018,1500 1005,1900 1005,2300 C1005,2500 1029,2570 1030,2629.3"/>
<path class="ed" d="M1297,781.3 C1326,766 1351,738 1336,724 C1318,714 1250,715 1155,715 C1120,715 1102,756 1085,820 C1055,940 1032,1100 1024,1250 C1015,1700 1008,2200 1010,2600 C1012,2800 1029,2900 1030,2965.3"/>
</g>

<text class="t" x="15" y="3085" style="font-size:18.5px">Generated by SchemaSpy</text>
</svg>
